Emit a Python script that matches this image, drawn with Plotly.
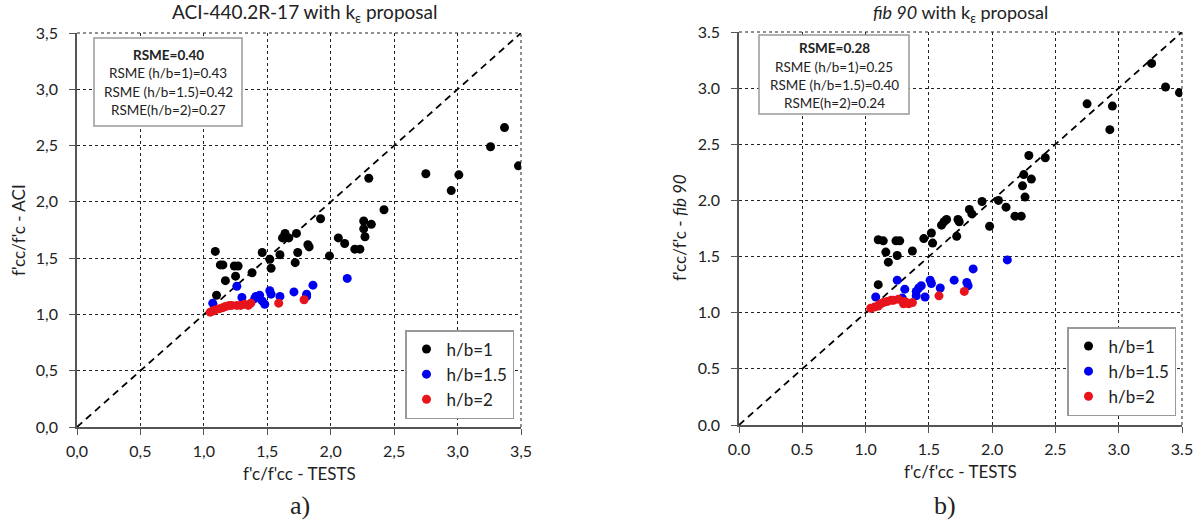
import plotly.graph_objects as go

W, H = 1198, 523
FONT = "Lato"

# ---------------- data ----------------
aci_x1 = [1.09, 1.10, 1.13, 1.15, 1.17, 1.24, 1.27, 1.25, 1.38, 1.46, 1.52, 1.53, 1.60, 1.62, 1.64, 1.67,
          1.72, 1.73, 1.74, 1.82, 1.83, 1.92, 1.99, 2.06, 2.11, 2.19, 2.23, 2.26, 2.26, 2.27, 2.30, 2.32,
          2.42, 2.75, 2.95, 3.01, 3.26, 3.37, 3.48]
aci_y1 = [1.56, 1.17, 1.44, 1.44, 1.30, 1.43, 1.43, 1.34, 1.37, 1.55, 1.49, 1.41, 1.53, 1.68, 1.72, 1.68,
          1.46, 1.72, 1.55, 1.62, 1.60, 1.85, 1.52, 1.68, 1.63, 1.58, 1.58, 1.83, 1.76, 1.69, 2.21, 1.80,
          1.93, 2.25, 2.10, 2.24, 2.49, 2.66, 2.32]
aci_x15 = [1.07, 1.26, 1.30, 1.40, 1.41, 1.44, 1.46, 1.48, 1.52, 1.53, 1.60, 1.71, 1.81, 1.81, 1.86, 2.13]
aci_y15 = [1.10, 1.25, 1.15, 1.14, 1.16, 1.17, 1.12, 1.09, 1.21, 1.18, 1.16, 1.20, 1.16, 1.18, 1.26, 1.32]
aci_x2 = [1.05, 1.07, 1.09, 1.12, 1.15, 1.17, 1.20, 1.22, 1.26, 1.29, 1.32, 1.35, 1.37, 1.59, 1.79]
aci_y2 = [1.02, 1.03, 1.04, 1.05, 1.06, 1.07, 1.08, 1.08, 1.08, 1.08, 1.09, 1.08, 1.10, 1.10, 1.13]

fib_x1 = [1.10, 1.10, 1.14, 1.16, 1.18, 1.24, 1.27, 1.25, 1.37, 1.46, 1.52, 1.53, 1.60, 1.62, 1.64, 1.72,
          1.73, 1.74, 1.82, 1.84, 1.92, 1.98, 2.05, 2.11, 2.18, 2.23, 2.24, 2.25, 2.26, 2.29, 2.31, 2.42,
          2.75, 2.93, 2.95, 3.26, 3.37, 3.48]
fib_y1 = [1.25, 1.65, 1.64, 1.54, 1.45, 1.64, 1.64, 1.51, 1.55, 1.66, 1.71, 1.62, 1.78, 1.81, 1.83, 1.68,
          1.83, 1.81, 1.92, 1.88, 1.99, 1.77, 2.00, 1.94, 1.86, 1.86, 2.13, 2.23, 2.03, 2.40, 2.19, 2.38,
          2.86, 2.63, 2.84, 3.22, 3.01, 2.96]
fib_x15 = [1.08, 1.25, 1.29, 1.31, 1.40, 1.40, 1.42, 1.44, 1.47, 1.51, 1.52, 1.59, 1.70, 1.80, 1.81, 1.85, 2.12]
fib_y15 = [1.14, 1.29, 1.13, 1.21, 1.15, 1.19, 1.22, 1.24, 1.14, 1.29, 1.26, 1.22, 1.29, 1.27, 1.24, 1.39, 1.47]
fib_x2 = [1.04, 1.07, 1.10, 1.12, 1.14, 1.17, 1.20, 1.22, 1.26, 1.30, 1.31, 1.34, 1.37, 1.58, 1.78]
fib_y2 = [1.04, 1.05, 1.06, 1.08, 1.09, 1.10, 1.11, 1.11, 1.12, 1.08, 1.10, 1.08, 1.09, 1.15, 1.19]

diag = [0.0, 3.5]
tick_vals = [0.0, 0.5, 1.0, 1.5, 2.0, 2.5, 3.0, 3.5]
tick_text_comma = ["0,0", "0,5", "1,0", "1,5", "2,0", "2,5", "3,0", "3,5"]
tick_text_dot = ["0.0", "0.5", "1.0", "1.5", "2.0", "2.5", "3.0", "3.5"]
series_names = ["h/b=1", "h/b=1.5", "h/b=2"]
series_colors = ["#000000", "#0000f0", "#e8141b"]
aci_stats = ["<b>RSME=0.40</b>", "RSME (h/b=1)=0.43", "RSME (h/b=1.5)=0.42", "RSME(h/b=2)=0.27"]
fib_stats = ["<b>RSME=0.28</b>", "RSME (h/b=1)=0.25", "RSME (h/b=1.5)=0.40", "RSME(h=2)=0.24"]


def px(p):
    return p / W


def py(p):
    return 1 - p / H


fig = go.Figure()

# diagonal reference lines
for xa, ya in (("x", "y"), ("x2", "y2")):
    fig.add_trace(go.Scatter(x=diag, y=diag, mode="lines", xaxis=xa, yaxis=ya,
                             line=dict(color="black", width=1.8, dash="7px,5px"),
                             showlegend=False, hoverinfo="skip"))

aci_sets = [(aci_x1, aci_y1), (aci_x15, aci_y15), (aci_x2, aci_y2)]
fib_sets = [(fib_x1, fib_y1), (fib_x15, fib_y15), (fib_x2, fib_y2)]

for (xs, ys), name, col in zip(aci_sets, series_names, series_colors):
    fig.add_trace(go.Scatter(x=xs, y=ys, mode="markers", name=name, xaxis="x", yaxis="y",
                             marker=dict(color=col, size=9), legend="legend"))
for (xs, ys), name, col in zip(fib_sets, series_names, series_colors):
    fig.add_trace(go.Scatter(x=xs, y=ys, mode="markers", name=name, xaxis="x2", yaxis="y2",
                             marker=dict(color=col, size=9), legend="legend2"))

axis_common = dict(range=[0, 3.5], tickvals=tick_vals, showgrid=True, gridcolor="#222",
                   griddash="dot", gridwidth=1, showline=True, linecolor="#555", linewidth=1.5,
                   ticks="outside", ticklen=6, tickcolor="#555", zeroline=False, automargin=False,
                   tickfont=dict(family=FONT, size=16, color="#222"), fixedrange=True)

legend_common = dict(xanchor="left", yanchor="top", bgcolor="white", bordercolor="#999",
                     borderwidth=1.5, font=dict(family=FONT, size=17, color="#222"),
                     itemwidth=30, tracegroupgap=0)

fig.update_layout(
    width=W, height=H, margin=dict(l=0, r=0, t=0, b=0, pad=0), autosize=False,
    plot_bgcolor="white", paper_bgcolor="white",
    font=dict(family=FONT, color="#222"),
    xaxis=dict(axis_common, domain=[px(77), px(521)], anchor="y", ticktext=tick_text_comma,
               ticklabelstandoff=3),
    yaxis=dict(axis_common, domain=[py(427), py(33)], anchor="x", ticktext=tick_text_comma,
               ticklabelstandoff=8),
    xaxis2=dict(axis_common, domain=[px(739), px(1182)], anchor="y2", ticktext=tick_text_dot,
                ticklabelstandoff=3),
    yaxis2=dict(axis_common, domain=[py(425), py(32)], anchor="x2", ticktext=tick_text_dot,
                ticklabelstandoff=8),
    legend=dict(legend_common, x=px(405), y=py(330)),
    legend2=dict(legend_common, x=px(1067), y=py(327)),
    showlegend=True,
)

shapes = []
annotations = []

# top/right dotted borders
for xr, yr in (("x", "y"), ("x2", "y2")):
    shapes.append(dict(type="line", xref=xr + " domain", yref=yr + " domain", x0=0, x1=1, y0=1, y1=1,
                       line=dict(color="#222", width=1, dash="dot")))
    shapes.append(dict(type="line", xref=xr + " domain", yref=yr + " domain", x0=1, x1=1, y0=0, y1=1,
                       line=dict(color="#222", width=1, dash="dot")))

# stats boxes
for (x0, x1, y0, y1, cx, lines_y, texts) in (
        (94, 242, 38, 126, 168, [55, 73.3, 91.7, 110], aci_stats),
        (759, 909, 35, 114, 834, [48.3, 66.7, 85, 103.3], fib_stats)):
    shapes.append(dict(type="rect", xref="paper", yref="paper", x0=px(x0), x1=px(x1), y0=py(y1), y1=py(y0),
                       line=dict(color="#999", width=1.5), fillcolor="white", layer="above"))
    for ly, t in zip(lines_y, texts):
        annotations.append(dict(x=px(cx), y=py(ly), xref="paper", yref="paper", text=t, showarrow=False,
                                xanchor="center", yanchor="middle",
                                font=dict(family=FONT, size=13.5, color="#222")))

# titles
annotations += [
    dict(x=px(304), y=py(13), text="ACI-440.2R-17 with k<sub>ε</sub> proposal", size=19),
    dict(x=px(960), y=py(13), text="<i>fib 90</i> with k<sub>ε</sub> proposal", size=18),
    dict(x=px(299), y=py(473), text="f'c/f'cc - TESTS", size=17),
    dict(x=px(960), y=py(471), text="f'c/f'cc - TESTS", size=17),
    dict(x=px(18), y=py(230), text="f'cc/f'c - ACI", textangle=-90, size=17),
    dict(x=px(679), y=py(228), text="f'cc/f'c - <i>fib 90</i>", textangle=-90, size=17),
]
for a in annotations[-6:]:
    s = a.pop("size")
    a.update(xref="paper", yref="paper", showarrow=False, xanchor="center", yanchor="middle",
             font=dict(family=FONT, size=s, color="#222"))

annotations += [
    dict(x=px(300), y=py(505), text="a)", xref="paper", yref="paper", showarrow=False,
         xanchor="center", yanchor="middle",
         font=dict(family="Liberation Serif", size=26, color="#222")),
    dict(x=px(945), y=py(505), text="b)", xref="paper", yref="paper", showarrow=False,
         xanchor="center", yanchor="middle",
         font=dict(family="Liberation Serif", size=26, color="#222")),
]

fig.update_layout(shapes=shapes, annotations=annotations)
fig.write_html("out.html", config={"displayModeBar": False},
               post_script="document.body.style.margin='0';document.body.style.overflow='hidden';")
